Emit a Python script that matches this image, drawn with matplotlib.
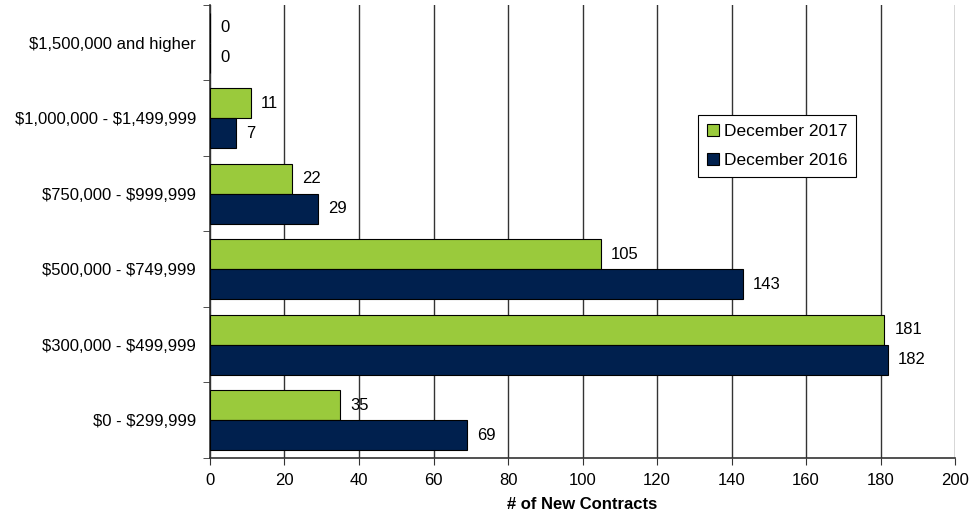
import numpy as np
import matplotlib.pyplot as plt
from matplotlib.patches import Patch

# Data
price_ranges = ['$0 - $299,999', '$300,000 - $499,999', '$500,000 - $749,999',
                '$750,000 - $999,999', '$1,000,000 - $1,499,999', '$1,500,000 and higher']
dec_2017 = [35, 181, 105, 22, 11, 0]
dec_2016 = [69, 182, 143, 29, 7, 0]
x_ticks = list(range(0, 201, 20))

green = '#9ACA3C'
navy = '#00204E'

plt.rcParams['font.family'] = ['Liberation Sans', 'DejaVu Sans']
plt.rcParams['text.parse_math'] = False  # keep the dollar signs literal

fig = plt.figure(figsize=(9.69, 5.16), dpi=100)
ax = fig.add_axes([0.2167, 0.1124, 0.7689, 0.878])

y = np.arange(len(price_ranges))
h = 0.4
ax.barh(y + h / 2, dec_2017, height=h, color=green, edgecolor='black', linewidth=0.8, zorder=3)
ax.barh(y - h / 2, dec_2016, height=h, color=navy, edgecolor='black', linewidth=0.8, zorder=3)

for i in range(len(price_ranges)):
    ax.text(dec_2017[i] + 2.7, y[i] + h / 2, str(dec_2017[i]), va='center', ha='left', fontsize=12, zorder=4)
    ax.text(dec_2016[i] + 2.7, y[i] - h / 2, str(dec_2016[i]), va='center', ha='left', fontsize=12, zorder=4)

ax.set_xlim(0, 200)
ax.set_ylim(-0.5, len(price_ranges) - 0.5)
ax.set_xticks(x_ticks)
ax.set_xticklabels([str(t) for t in x_ticks], fontsize=12)
ax.xaxis.grid(True, color='#333333', linewidth=1)
ax.set_axisbelow(True)

# category labels at centers, tick marks at boundaries
ax.set_yticks(y)
ax.set_yticklabels(price_ranges, fontsize=12)
ax.tick_params(axis='y', length=0, pad=10)
ax.set_yticks(np.arange(-0.5, len(price_ranges), 1), minor=True)
ax.tick_params(axis='y', which='minor', length=5, direction='out', color='#333333')
ax.tick_params(axis='x', length=5, direction='out', color='#333333', pad=6)

ax.spines['top'].set_visible(False)
ax.spines['right'].set_visible(False)
ax.spines['left'].set_color('#333333')
ax.spines['bottom'].set_color('#333333')
ax.spines['left'].set_linewidth(1.2)
ax.spines['bottom'].set_linewidth(1.2)

ax.set_xlabel('# of New Contracts', fontsize=12, fontweight='bold', labelpad=6)

handles = [Patch(facecolor=green, edgecolor='black', linewidth=0.8, label='December 2017'),
           Patch(facecolor=navy, edgecolor='black', linewidth=0.8, label='December 2016')]
leg = ax.legend(handles=handles, loc='upper left', bbox_to_anchor=(0.655, 0.757),
                borderaxespad=0, fontsize=12.5, frameon=True, fancybox=False,
                handlelength=0.7, handleheight=0.7, handletextpad=0.3,
                borderpad=0.5, labelspacing=0.8)
leg.get_frame().set_edgecolor('black')
leg.get_frame().set_linewidth(0.8)
leg.get_frame().set_alpha(1)

fig.savefig('out.png', dpi=100)
